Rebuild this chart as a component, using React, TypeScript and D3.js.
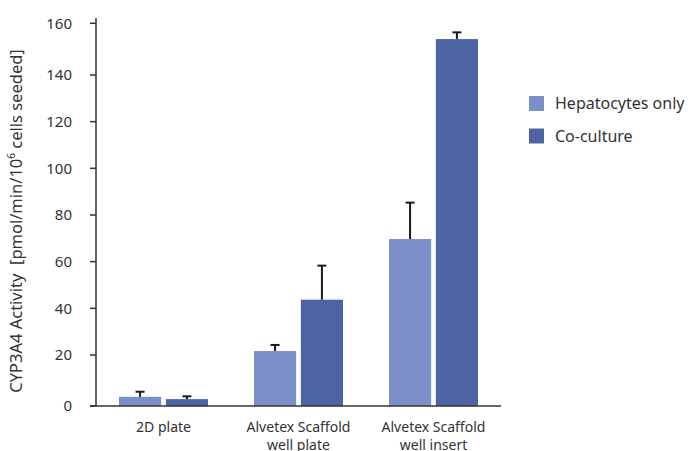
import React from "react";
import * as d3 from "d3";

const categories = [["2D plate"], ["Alvetex Scaffold", "well plate"], ["Alvetex Scaffold", "well insert"]];
const seriesNames = ["Hepatocytes only", "Co-culture"];
const hepatocytes = [3.6, 21.7, 69.7];
const hepatocytesErr = [2.0, 2.6, 15.6];
const coculture = [2.7, 43.7, 153.9];
const cocultureErr = [1.1, 14.6, 2.6];
const yTicks = [0, 20, 40, 60, 80, 100, 120, 140, 160];
const colors = ["#7B90C8", "#4D64A4"];

const W = 692, H = 451;
const FONT = "'Noto Sans', sans-serif";
const TXT = "#333";

export default function App() {
  const x0 = d3.scaleBand<number>().domain([0, 1, 2]).range([96, 501]).paddingInner(0).paddingOuter(0);
  const x1 = d3.scaleBand<number>().domain([0, 1]).range([0, 89]).paddingInner(0.1);
  const y = d3.scaleLinear().domain([0, 20, 140, 160]).range([406, 355, 75, 23.3]);
  const series = [
    { vals: hepatocytes, errs: hepatocytesErr },
    { vals: coculture, errs: cocultureErr },
  ];
  const groupOffset = (x0.bandwidth() - 89) / 2;
  return (
    <svg width={W} height={H} style={{ position: "absolute", left: 0, top: 0, background: "#fff" }} fontFamily={FONT}>
      {series.map((s, si) =>
        s.vals.map((v, ci) => {
          const bx = x0(ci)! + groupOffset + x1(si)!;
          const bw = x1.bandwidth();
          const cx = bx + bw / 2;
          const top = y(v);
          const et = y(v + s.errs[ci]);
          return (
            <g key={`${si}-${ci}`}>
              <rect x={bx} y={top} width={bw} height={y(0) - top} fill={colors[si]} />
              <line x1={cx} x2={cx} y1={top} y2={et} stroke="#1a1a1a" strokeWidth={2} />
              <line x1={cx - 4.5} x2={cx + 4.5} y1={et} y2={et} stroke="#1a1a1a" strokeWidth={2} />
            </g>
          );
        })
      )}
      {/* axes */}
      <line x1={96} x2={96} y1={18} y2={406} stroke={TXT} strokeWidth={1.5} />
      <line x1={90} x2={501} y1={406} y2={406} stroke={TXT} strokeWidth={1.5} />
      {yTicks.map((t) => (
        <g key={t}>
          <line x1={90} x2={96} y1={y(t)} y2={y(t)} stroke={TXT} strokeWidth={1.5} />
          <text x={72} y={y(t)} dy="0.35em" textAnchor="end" fontSize={15} fill={TXT}>
            {t}
          </text>
        </g>
      ))}
      {categories.map((lines, ci) => (
        <text key={ci} x={x0(ci)! + x0.bandwidth() / 2} y={432} textAnchor="middle" fontSize={14} fill={TXT}>
          {lines.map((l, li) => (
            <tspan key={li} x={x0(ci)! + x0.bandwidth() / 2} dy={li === 0 ? 0 : 18}>
              {l}
            </tspan>
          ))}
        </text>
      ))}
      <text transform={`translate(22,221) rotate(-90)`} textAnchor="middle" fontSize={16.5} fill={TXT}>
        CYP3A4 Activity{"\u00a0\u00a0"}[pmol/min/10
        <tspan fontSize={10} dy={-7}>6</tspan>
        <tspan dy={7}>{"\u00a0"}cells seeded]</tspan>
      </text>
      {seriesNames.map((n, i) => (
        <g key={n} transform={`translate(529,${96 + i * 32.5})`}>
          <rect width={15} height={15} fill={colors[i]} />
          <text x={26} y={7.5} dy="0.35em" fontSize={16} fill={TXT}>
            {n}
          </text>
        </g>
      ))}
    </svg>
  );
}
